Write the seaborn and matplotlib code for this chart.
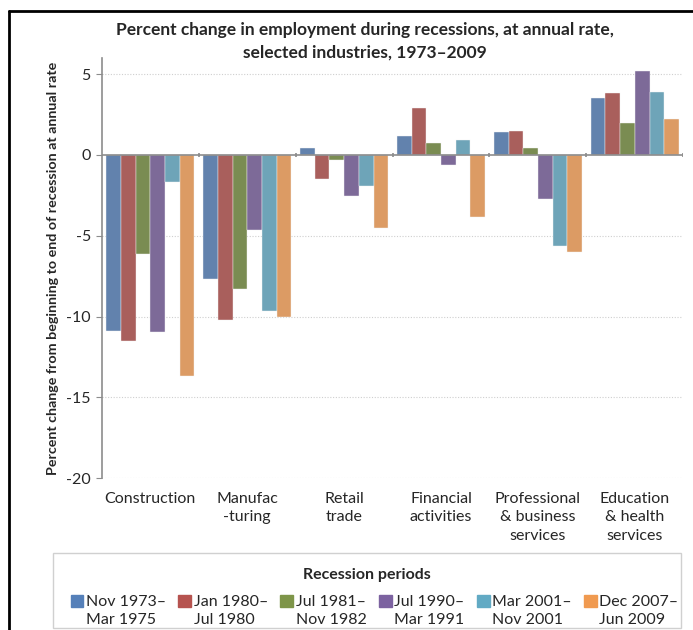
import pandas as pd
import seaborn as sns
import matplotlib.pyplot as plt
from matplotlib.patches import Rectangle
from matplotlib.legend_handler import HandlerPatch

industries = ["Construction", "Manufac\n-turing", "Retail\ntrade", "Financial\nactivities",
              "Professional\n& business\nservices", "Education\n& health\nservices"]
periods = ["Nov 1973–\nMar 1975", "Jan 1980–\nJul 1980", "Jul 1981–\nNov 1982",
           "Jul 1990–\nMar 1991", "Mar 2001–\nNov 2001", "Dec 2007–\nJun 2009"]

nov73 = [-10.9, -7.7, 0.4, 1.15, 1.4, 3.55]
jan80 = [-11.5, -10.2, -1.5, 2.9, 1.5, 3.85]
jul81 = [-6.1, -8.3, -0.3, 0.75, 0.45, 1.95]
jul90 = [-10.95, -4.65, -2.55, -0.6, -2.75, 5.2]
mar01 = [-1.65, -9.65, -1.95, 0.95, -5.65, 3.9]
dec07 = [-13.65, -10.05, -4.5, -3.85, -6.0, 2.2]

colors = ["#5580B9", "#B6534F", "#7E9549", "#7C62A0", "#62AAC4", "#F09A50"]

rows = []
for p, vals in zip(periods, [nov73, jan80, jul81, jul90, mar01, dec07]):
    for ind, v in zip(industries, vals):
        rows.append({"industry": ind, "period": p, "value": v})
df = pd.DataFrame(rows)

sns.set_style("white")
plt.rcParams['font.family'] = ['Lato', 'DejaVu Sans']

fig = plt.figure(figsize=(6.93, 6.3), dpi=100)
ax = fig.add_axes([0.147, 0.241, 0.839, 0.667])

sns.barplot(data=df, x="industry", y="value", hue="period", palette=colors,
            width=0.91, gap=0, edgecolor="#f4f4f4", linewidth=0.3, ax=ax, legend=False)

ax.set_ylim(-20, 6)
ax.set_xlim(-0.5, 5.5)
ax.set_yticks([5, 0, -5, -10, -15, -20])
ax.set_yticklabels(["5", "0", "-5", "-10", "-15", "-20"])
for y in [5, -5, -10, -15, -20]:
    ax.axhline(y, color="#cfcfcf", lw=0.8, ls=(0, (1, 1.5)), zorder=0)
ax.axhline(0, color="#8c8c8c", lw=1.2, zorder=3)
ax.vlines([0.5, 1.5, 2.5, 3.5, 4.5, 5.5], -0.15, 0.15, color="#8c8c8c", lw=1.2, zorder=3)

for s in ["top", "right", "bottom"]:
    ax.spines[s].set_visible(False)
ax.spines["left"].set_color("#8c8c8c")
ax.spines["left"].set_linewidth(1.2)
ax.tick_params(axis="y", length=4, color="#8c8c8c", labelsize=11.5, pad=4, left=True)
ax.tick_params(axis="x", length=0, labelsize=11.5, pad=10)
for lab in ax.get_xticklabels():
    lab.set_linespacing(1.4)
ax.set_xlabel("")
ax.set_ylabel("Percent change from beginning to end of recession at annual rate",
              fontsize=10.3, fontweight="bold", labelpad=5)

fig.text(0.527, 0.953, "Percent change in employment during recessions, at annual rate,",
         ha="center", va="center", fontsize=12.5, fontweight="bold")
fig.text(0.527, 0.917, "selected industries, 1973–2009",
         ha="center", va="center", fontsize=12.5, fontweight="bold")

# legend box + title drawn separately, legend entries without frame
fig.add_artist(Rectangle((53 / 693, 2 / 630), 628 / 693, 75 / 630, transform=fig.transFigure,
                         facecolor="white", edgecolor="#d0d0d0", lw=1.0))
fig.text(0.53, 1 - 575 / 630, "Recession periods", ha="center", va="center",
         fontsize=11.5, fontweight="bold")


def raised_square(legend, orig_handle, xdescent, ydescent, width, height, fontsize):
    return Rectangle((-xdescent, -ydescent + 0.62 * fontsize), width, height)


handles = [Rectangle((0, 0), 1, 1, color=c) for c in colors]
leg = fig.legend(handles, periods, ncol=6, loc="center",
                 bbox_to_anchor=(0.102, 1 - 611 / 630, 0.877, 0.0), mode="expand",
                 fontsize=11.5, frameon=False,
                 handlelength=0.8, handleheight=0.8, handletextpad=0.15,
                 borderaxespad=0, borderpad=0, columnspacing=1.0,
                 handler_map={Rectangle: HandlerPatch(patch_func=raised_square)})
for t in leg.get_texts():
    t.set_linespacing(1.4)

fig.add_artist(plt.Line2D([9 / 693, 9 / 693], [-0.1, 1 - 11 / 630], color="black", lw=2,
                          transform=fig.transFigure))
fig.add_artist(plt.Line2D([9 / 693, 1.1], [1 - 11 / 630, 1 - 11 / 630], color="black", lw=2,
                          transform=fig.transFigure))

plt.savefig("out.png", dpi=100)
plt.close()
